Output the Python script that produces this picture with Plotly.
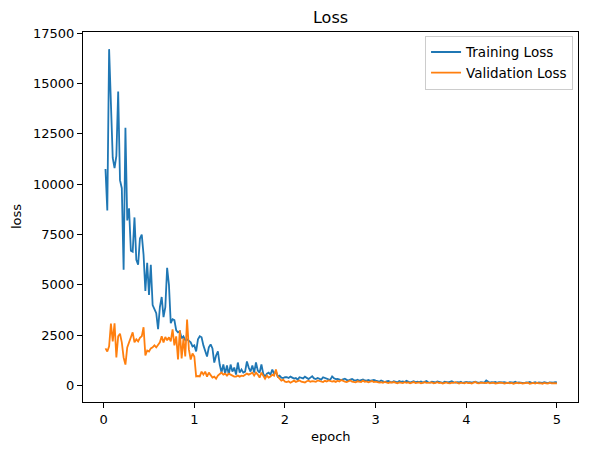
import plotly.graph_objects as go

# ---- data ----
epoch_step = 0.02

train_loss = [
    10750, 8700, 16700, 14200, 11300, 10800, 11400, 14600, 10200, 9800,
    5750, 12800, 8200, 8800, 6700, 6650, 8350, 6250, 6000, 7300,
    7500, 6500, 4700, 6100, 4500, 6000, 4000, 3800, 3600, 2800,
    3900, 4400, 3400, 3900, 5850, 5000, 3100, 3300, 3250, 2750,
    2650, 2700, 2350, 2450, 2250, 2300, 2200, 2150, 1950, 2000,
    1700, 2300, 2450, 2400, 2000, 1750, 1450, 1900, 2050, 1850,
    1150, 1500, 1700, 1050, 650, 1050, 600, 1000, 550, 1050,
    700, 900, 550, 1150, 650, 800, 650, 700, 1200, 900,
    700, 1000, 650, 1150, 750, 650, 1050, 600, 450, 600,
    650, 550, 800, 600, 700, 450, 500, 400, 380, 420,
    420, 380, 450, 400, 350, 380, 300, 420, 380, 360,
    450, 390, 330, 400, 470, 360, 330, 380, 340, 300,
    420, 380, 350, 310, 300, 460, 370, 330, 340, 300,
    280, 320, 350, 290, 260, 300, 330, 280, 260, 300,
    240, 280, 310, 260, 250, 280, 240, 270, 290, 250,
    230, 200, 260, 220, 180, 210, 240, 190, 170, 220,
    200, 160, 230, 190, 210, 180, 240, 200, 150, 190,
    220, 170, 200, 180, 210, 160, 190, 230, 170, 150,
    200, 180, 160, 210, 190, 170, 140, 200, 180, 160,
    190, 220, 170, 150, 180, 160, 200, 140, 170, 190,
    160, 180, 150, 170, 200, 160, 140, 180, 170, 150,
    260, 180, 150, 170, 160, 190, 140, 170, 150, 160,
    180, 150, 130, 170, 160, 150, 190, 140, 160, 150,
    170, 130, 160, 150, 180, 140, 150, 170, 130, 160,
    150, 140, 170, 150, 130, 160, 140, 150, 170, 160,
]

val_loss = [
    1850, 1700, 1950, 3080, 2200, 3100, 1400, 2450, 2580, 2150,
    1400, 1050, 1900, 2150, 2400, 2650, 2150, 2300, 2200, 2380,
    2450, 2900, 1500, 1750, 1700, 1850, 1900, 2000, 1900, 2050,
    2150, 2450, 2150, 2420, 2250, 2400, 2200, 2800, 2000, 2450,
    1300, 2750, 1350, 2350, 1450, 3280, 1800, 1300, 1600, 1450,
    460, 480, 460, 700, 550, 700, 450, 650, 500, 400,
    450, 350, 500, 600, 650, 550, 600, 500, 600, 550,
    500, 450, 450, 500, 450, 500, 480, 550, 600, 550,
    600, 650, 500, 650, 550, 400, 650, 500, 350, 500,
    400, 450, 550, 500, 800, 450, 350, 250, 300, 200,
    180, 220, 150, 200, 250, 190, 230, 260, 200, 180,
    160, 220, 250, 200, 230, 210, 190, 260, 230, 200,
    180, 240, 210, 260, 220, 200, 230, 190, 250, 210,
    280, 220, 200, 180, 230, 260, 200, 190, 170, 220,
    200, 180, 250, 190, 210, 170, 200, 230, 180, 200,
    180, 150, 170, 140, 190, 160, 130, 170, 150, 180,
    140, 120, 160, 150, 130, 170, 140, 160, 120, 150,
    180, 130, 140, 160, 120, 150, 170, 140, 130, 150,
    160, 120, 140, 170, 130, 150, 110, 140, 160, 130,
    120, 150, 140, 170, 130, 110, 150, 140, 120, 160,
    130, 140, 110, 150, 180, 130, 120, 150, 140, 110,
    130, 160, 120, 140, 150, 110, 130, 120, 150, 140,
    110, 130, 150, 120, 140, 100, 130, 150, 120, 140,
    110, 130, 120, 150, 100, 130, 140, 110, 150, 120,
    130, 100, 140, 120, 110, 150, 120, 130, 140, 120,
]

train_epoch = [round(epoch_step * (i + 1), 4) for i in range(len(train_loss))]
val_epoch = [round(epoch_step * (i + 1), 4) for i in range(len(val_loss))]

x_ticks = [0, 1, 2, 3, 4, 5]
y_ticks = [0, 2500, 5000, 7500, 10000, 12500, 15000, 17500]

FONT = "DejaVu Sans"

fig = go.Figure()
fig.add_trace(go.Scatter(x=train_epoch, y=train_loss, mode="lines",
                         name="Training Loss",
                         line=dict(color="#1f77b4", width=1.8)))
fig.add_trace(go.Scatter(x=val_epoch, y=val_loss, mode="lines",
                         name="Validation Loss",
                         line=dict(color="#ff7f0e", width=1.8)))

axis_common = dict(showgrid=False, zeroline=False, showline=True, mirror=True,
                   linecolor="black", linewidth=1, ticks="outside", ticklen=5,
                   tickwidth=1, tickcolor="black",
                   tickfont=dict(family=FONT, size=13, color="black"))

fig.update_layout(
    width=589, height=455,
    margin=dict(l=83, r=11, t=32, b=53),
    paper_bgcolor="white", plot_bgcolor="white",
    font=dict(family=FONT, size=13, color="black"),
    title=dict(text="Loss", x=0.5, xref="paper", xanchor="center",
               y=1 - 17 / 455, yref="container", yanchor="middle",
               font=dict(family=FONT, size=16, color="black")),
    xaxis=dict(range=[-0.228, 5.232], tickvals=x_ticks,
               ticktext=[str(v) for v in x_ticks], **axis_common),
    yaxis=dict(range=[-809, 17551], tickvals=y_ticks,
               ticktext=[str(v) for v in y_ticks], **axis_common),
    legend=dict(x=0.99, y=0.99, xanchor="right", yanchor="top",
                bgcolor="rgba(255,255,255,0.8)", bordercolor="#cccccc",
                borderwidth=1, itemwidth=30,
                font=dict(family=FONT, size=13.5, color="black")),
    showlegend=True,
)

fig.add_annotation(text="epoch", xref="paper", yref="paper",
                   x=0.5, y=-(437 - 402) / 370, xanchor="center", yanchor="middle",
                   showarrow=False, font=dict(family=FONT, size=13, color="black"))
fig.add_annotation(text="loss", xref="paper", yref="paper",
                   x=-(83 - 16) / 495, y=0.5, xanchor="center", yanchor="middle",
                   textangle=-90, showarrow=False,
                   font=dict(family=FONT, size=13, color="black"))

fig.write_html("out.html")
